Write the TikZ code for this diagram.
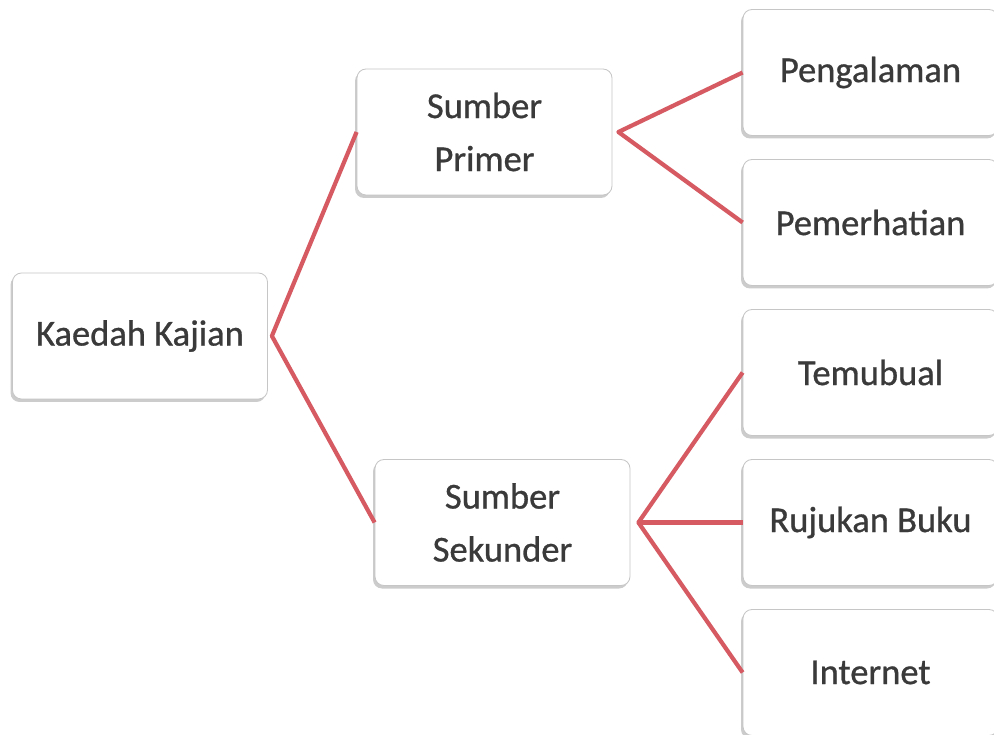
\documentclass[tikz,border=0pt]{standalone}
\usepackage{fontspec}
\setmainfont{Carlito}
\newfontfamily\boxfont{Carlito}[FakeBold=0.8]
\usetikzlibrary{shadows}
\definecolor{linkred}{HTML}{D65A62}
\definecolor{boxtext}{HTML}{3A3A3A}
\tikzset{
  box/.style={draw=gray!45, line width=0.8pt, fill=white, rounded corners=9pt,
    minimum width=255, minimum height=126, align=center, text=boxtext,
    font=\boxfont\fontsize{36.5}{53}\selectfont,
    drop shadow={shadow xshift=-2pt, shadow yshift=-3pt, opacity=0.4, fill=gray}},
  link/.style={draw=linkred, line width=4.2pt, line join=round}
}
\begin{document}
\begin{tikzpicture}[x=1pt, y=-1pt]
  \clip (0,0) rectangle (994,735);
  \fill[white] (0,0) rectangle (994,735);

  \node[box] (kaedah) at (140,336) {Kaedah Kajian};
  \node[box] (primer) at (484.5,132) {Sumber\\Primer};
  \node[box] (sekunder) at (502.5,522.5) {Sumber\\Sekunder};

  \node[box] (alam) at (870.5,72.5) {Pengalaman};
  \node[box] (perhati) at (870.5,222.5) {Pemerhatian};
  \node[box] (temubual) at (870.5,372.5) {Temubual};
  \node[box] (buku) at (870.5,522.5) {Rujukan Buku};
  \node[box] (internet) at (870.5,672.5) {Internet};

  \coordinate (jkaedah) at ([xshift=4pt]kaedah.east);
  \coordinate (jprimer) at ([xshift=6pt]primer.east);
  \coordinate (jsekunder) at ([xshift=8pt]sekunder.east);

  \draw[link] (primer.west) -- (jkaedah) -- (sekunder.west);
  \draw[link] (alam.west) -- (jprimer) -- (perhati.west);
  \draw[link] (temubual.west) -- (jsekunder) -- (internet.west);
  \draw[link] (jsekunder) -- (buku.west);
\end{tikzpicture}
\end{document}
